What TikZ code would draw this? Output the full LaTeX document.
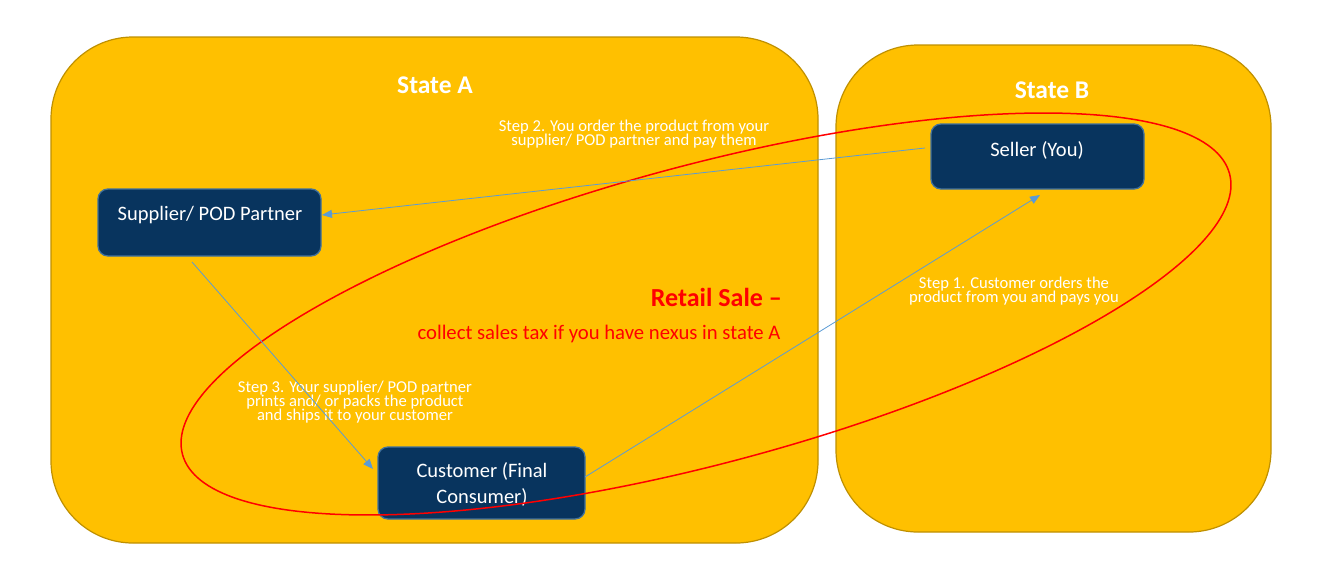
\documentclass[tikz,border=0pt]{standalone}
\usepackage{fontspec}
\setmainfont{Carlito}
\usetikzlibrary{arrows.meta}
\definecolor{stateyellow}{HTML}{FFC000}
\definecolor{stateborder}{HTML}{BF9000}
\definecolor{navy}{HTML}{08345E}
\definecolor{navyborder}{HTML}{41719C}
\definecolor{arrowblue}{HTML}{5B9BD5}
\definecolor{salered}{HTML}{FF0000}
\tikzset{
  statebox/.style={draw=stateborder, fill=stateyellow, line width=1.2pt, rounded corners=82pt},
  navybox/.style={draw=navyborder, fill=navy, line width=1.3pt, rounded corners=10pt},
  boxtext/.style={text=white, font=\fontsize{20.5}{26}\selectfont, align=center, inner sep=0pt},
  statetitle/.style={text=white, font=\fontsize{25.5}{28}\selectfont\bfseries, inner sep=0pt},
  steptext/.style={text=white, font=\fontsize{16.6}{14.3}\selectfont, align=center, inner sep=0pt},
  flow/.style={draw=arrowblue, line width=0.8pt, -{Triangle[length=10pt,width=8pt]}},
}
\begin{document}
\begin{tikzpicture}[x=1pt,y=-1pt]
\useasboundingbox (0,0) rectangle (1339,579);
% state boxes
\draw[statebox] (51,37) rectangle (818,543);
\draw[statebox] (836,45) rectangle (1271,532);
\node[statetitle] (titleA) at (435,85) {State A};
\node[statetitle] (titleB) at (1052,90) {State B};
% boxes
\node[navybox, minimum width=213pt, minimum height=65pt, inner sep=0pt] (seller) at (1037.5,156.5) {};
\node[boxtext] (sellertxt) at (1037,150) {Seller (You)};
\node[navybox, minimum width=223pt, minimum height=67pt, inner sep=0pt] (supplier) at (209.5,222.5) {};
\node[boxtext] (suppliertxt) at (210,215) {Supplier/ POD Partner};
\node[navybox, minimum width=207pt, minimum height=72pt, inner sep=0pt] (customer) at (481.5,483) {};
\node[boxtext] (customertxt) at (482,484) {Customer (Final\\Consumer)};
% ellipse
\coordinate (ec) at (706,314);
\draw[salered, line width=1.5pt, rotate around={15:(ec)}] (ec) ellipse [x radius=542pt, y radius=149pt];
% red texts
\node[text=salered, font=\fontsize{26}{28}\selectfont\bfseries, anchor=east, inner sep=0pt] (retail) at (782,297) {Retail Sale --};
\node[text=salered, font=\fontsize{20.7}{22}\selectfont, inner sep=0pt] (collect) at (599,334) {collect sales tax if you have nexus in state A};
% step texts
\node[steptext] (step2) at (634,134) {Step 2. You order the product from your\\supplier/ POD partner and pay them};
\node[steptext] (step1) at (1014,291) {Step 1. Customer orders the\\product from you and pays you};
\node[steptext] (step3) at (355,402) {Step 3. Your supplier/ POD partner\\prints and/ or packs the product\\and ships it to your customer};
% connectors
\coordinate (s2start) at (925,148);
\coordinate (s2end) at (322,215);
\coordinate (s3start) at (192,262);
\coordinate (s3end) at (373,469);
\coordinate (s1start) at (585,477);
\coordinate (s1end) at (1040,195);
\draw[flow] (s2start) -- (s2end);
\draw[flow] (s3start) -- (s3end);
\draw[flow] (s1start) -- (s1end);
\end{tikzpicture}
\end{document}
